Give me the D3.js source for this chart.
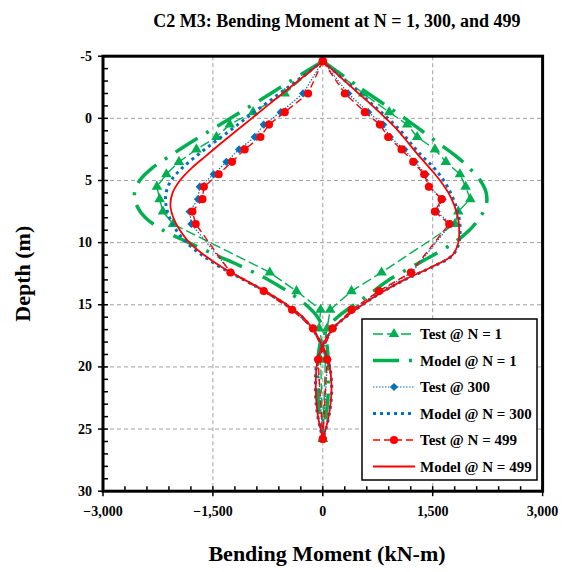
<!DOCTYPE html>
<html>
<head>
<meta charset="utf-8">
<script src="https://cdn.jsdelivr.net/npm/d3@7"></script>
<style>
  html, body { margin: 0; padding: 0; background: #fff; }
  svg { display: block; }
  text { font-family: "Liberation Serif", "Times New Roman", serif; font-weight: bold; fill: #000; }
</style>
</head>
<body>
<svg id="chart" width="562" height="572"></svg>
<script>
// Pile bending moment envelopes (kN-m) versus depth (m) for cycles N = 1, 300 and 499.

// Depths of the measured (test) points
const testDepth = [-4.6, -2.0, -0.5, 0.5, 1.5, 2.5, 3.5, 4.5, 5.5, 6.5, 7.5, 8.5, 12.4, 13.9, 15.4, 16.9, 19.4, 25.8];
// Measured moments: negative (min) and positive (max) envelopes
const testN1Min   = [0, -519, -952, -1270, -1452, -1725, -1963, -2135, -2264, -2227, -2182, -2045, -724, -359, -30, -50, 35, 0];
const testN1Max   = [0, 551, 906, 1152, 1288, 1530, 1680, 1872, 1949, 2013, 1849, 1803, 802, 392, 100, 60, -30, 0];
const testN300Min = [0, -269, -574, -806, -929, -1143, -1316, -1489, -1680, -1704, -1817, -1794, -1250, -800, -415, -140, 65, 0];
const testN300Max = [0, 346, 619, 824, 915, 1111, 1257, 1407, 1452, 1635, 1553, 1749, 1215, 780, 400, 140, -70, 0];
const testN499Min = [0, -201, -519, -734, -851, -1066, -1239, -1421, -1623, -1643, -1780, -1735, -1261, -806, -419, -133, 59, 0];
const testN499Max = [0, 301, 574, 779, 892, 1075, 1234, 1384, 1448, 1622, 1530, 1725, 1202, 765, 392, 133, -64, 0];

// Depths of the model output
const modelDepth = [-4.6, -3, -2, -1, 0, 1, 2, 3, 4, 5, 6, 7, 8, 9, 10, 11, 12, 13, 14, 15, 16, 17, 18, 19, 20, 21, 22, 23, 24, 25, 25.8];
// Model moments: negative (min) and positive (max) envelopes
const modelN1Min   = [0, -440, -710, -985, -1260, -1540, -1820, -2080, -2330, -2500, -2570, -2540, -2420, -2180, -1830, -1460, -1080, -740, -460, -230, -70, 10, 50, 70, 80, 80, 75, 62, 45, 20, 0];
const modelN1Max   = [0, 380, 620, 870, 1120, 1350, 1580, 1810, 2000, 2150, 2230, 2230, 2140, 2000, 1790, 1510, 1200, 900, 670, 430, 200, 40, -30, -60, -70, -72, -70, -60, -45, -20, 0];
const modelN300Min = [0, -360, -590, -820, -1050, -1270, -1500, -1720, -1920, -2070, -2140, -2140, -2090, -2000, -1860, -1650, -1390, -1075, -770, -500, -280, -135, -35, 45, 95, 118, 122, 108, 82, 42, 0];
const modelN300Max = [0, 310, 510, 700, 890, 1060, 1200, 1350, 1520, 1650, 1745, 1815, 1860, 1875, 1860, 1775, 1480, 1115, 805, 540, 310, 125, 20, -55, -90, -100, -100, -90, -68, -32, 0];
const modelN499Min = [0, -340, -550, -760, -970, -1180, -1390, -1590, -1790, -1950, -2050, -2080, -2040, -1950, -1820, -1620, -1370, -1060, -760, -490, -270, -130, -30, 50, 96, 115, 118, 105, 80, 40, 0];
const modelN499Max = [0, 300, 490, 680, 860, 1030, 1170, 1310, 1460, 1600, 1715, 1795, 1845, 1862, 1850, 1770, 1470, 1110, 805, 540, 310, 125, 20, -50, -85, -95, -95, -85, -65, -30, 0];

// Axis ticks and labels
const xTicks = [-3000, -1500, 0, 1500, 3000];
const yTicks = [-5, 0, 5, 10, 15, 20, 25, 30];
const legendLabels = ["Test @ N = 1", "Model @ N = 1", "Test @ 300", "Model @ N = 300", "Test @ N = 499", "Model @ N = 499"];

const titleText = "C2 M3: Bending Moment at N = 1, 300, and 499";
const xTitle = "Bending Moment (kN-m)";
const yTitle = "Depth (m)";

const GREEN = "#00B050", BLUE = "#0070C0", RED = "#FF0000";

const svg = d3.select("#chart");
const plot = { left: 103, right: 542.6, top: 56.2, bottom: 491.2 };

const x = d3.scaleLinear().domain([-3000, 3000]).range([plot.left, plot.right]);
const y = d3.scaleLinear().domain([-5, 30]).range([plot.top, plot.bottom]);

// Grid
const grid = svg.append("g").attr("stroke", "#a0a0a0").attr("stroke-width", 1).attr("stroke-dasharray", "4,3");
grid.selectAll("line.gx").data([-1500, 0, 1500]).join("line")
  .attr("x1", d => x(d)).attr("x2", d => x(d)).attr("y1", plot.top).attr("y2", plot.bottom);
grid.selectAll("line.gy").data([0, 5, 10, 15, 20, 25]).join("line")
  .attr("x1", plot.left).attr("x2", plot.right).attr("y1", d => y(d)).attr("y2", d => y(d));

// Series definitions
const series = [
  { depth: modelDepth, vals: [modelN1Min, modelN1Max], color: GREEN, width: 3.5, dash: "26,10,3,10", curve: true },
  { depth: testDepth,  vals: [testN1Min, testN1Max],   color: GREEN, width: 1.4, dash: "10,4", marker: "triangle" },
  { depth: modelDepth, vals: [modelN300Min, modelN300Max], color: BLUE, width: 3, dash: "3,4", curve: true },
  { depth: testDepth,  vals: [testN300Min, testN300Max],   color: BLUE, width: 1.2, dash: "1.5,1.5", marker: "diamond" },
  { depth: modelDepth, vals: [modelN499Min, modelN499Max], color: RED, width: 1.8, dash: null, curve: true },
  { depth: testDepth,  vals: [testN499Min, testN499Max],   color: RED, width: 1.4, dash: "7,4", marker: "circle" }
];

// Marker shapes: the diamond is a square turned by 45 degrees
const symbolFor = m => m === "triangle" ? d3.symbolTriangle : (m === "diamond" ? d3.symbolSquare : d3.symbolCircle);
const sizeFor = m => m === "triangle" ? 48 : (m === "diamond" ? 34 : 52);
const rotFor = m => m === "diamond" ? " rotate(45)" : "";

series.forEach(s => {
  const g = svg.append("g");
  s.vals.forEach(v => {
    const pts = s.depth.map((d, i) => [v[i], d]);
    const line = d3.line().x(p => x(p[0])).y(p => y(p[1]))
      .curve(s.curve ? d3.curveCatmullRom.alpha(0.5) : d3.curveLinear);
    g.append("path").datum(pts)
      .attr("d", line)
      .attr("fill", "none")
      .attr("stroke", s.color)
      .attr("stroke-width", s.width)
      .attr("stroke-dasharray", s.dash)
      .attr("stroke-linejoin", "round");
    if (s.marker) {
      g.selectAll(null).data(pts).join("path")
        .attr("transform", p => `translate(${x(p[0])},${y(p[1])})${rotFor(s.marker)}`)
        .attr("d", d3.symbol().type(symbolFor(s.marker)).size(sizeFor(s.marker)))
        .attr("fill", s.color);
    }
  });
});

// Frame
svg.append("rect")
  .attr("x", plot.left).attr("y", plot.top)
  .attr("width", plot.right - plot.left).attr("height", plot.bottom - plot.top)
  .attr("fill", "none").attr("stroke", "#000").attr("stroke-width", 3);

// Y axis ticks: minor inward, major crossing
const ticks = svg.append("g").attr("stroke", "#000").attr("stroke-width", 1.5);
ticks.selectAll("line.ym").data(d3.range(-5, 31, 1)).join("line")
  .attr("x1", d => d % 5 === 0 ? plot.left - 5 : plot.left)
  .attr("x2", plot.left + 5)
  .attr("y1", d => y(d)).attr("y2", d => y(d));
// X axis ticks
ticks.selectAll("line.xm").data(d3.range(-3000, 3001, 300)).join("line")
  .attr("x1", d => x(d)).attr("x2", d => x(d))
  .attr("y1", plot.bottom - 5)
  .attr("y2", d => d % 1500 === 0 ? plot.bottom + 5 : plot.bottom);

// Tick labels
const fmt = d3.format(",");
svg.append("g").selectAll("text").data(yTicks).join("text")
  .attr("x", plot.left - 11).attr("y", d => y(d))
  .attr("text-anchor", "end").attr("dominant-baseline", "central")
  .attr("font-size", 14)
  .text(d => d);
svg.append("g").selectAll("text").data(xTicks).join("text")
  .attr("x", d => x(d)).attr("y", 516)
  .attr("text-anchor", "middle")
  .attr("font-size", 14)
  .text(d => fmt(d));

// Titles
svg.append("text").attr("x", 337).attr("y", 27).attr("text-anchor", "middle")
  .attr("font-size", 18).text(titleText);
svg.append("text").attr("x", 327).attr("y", 561).attr("text-anchor", "middle")
  .attr("font-size", 22).text(xTitle);
svg.append("text").attr("transform", `translate(30,${(plot.top + plot.bottom) / 2}) rotate(-90)`)
  .attr("text-anchor", "middle").attr("font-size", 22).text(yTitle);

// Legend
const legend = svg.append("g");
legend.append("rect").attr("x", 362).attr("y", 319).attr("width", 175).attr("height", 161)
  .attr("fill", "#fff").attr("stroke", "#000").attr("stroke-width", 1.5);
const legendOrder = [1, 0, 3, 2, 5, 4];
legendLabels.forEach((lab, i) => {
  const s = series[legendOrder[i]];
  const cy = 334 + i * 26.5;
  legend.append("line").attr("x1", 373).attr("x2", 415).attr("y1", cy).attr("y2", cy)
    .attr("stroke", s.color).attr("stroke-width", s.width).attr("stroke-dasharray", s.dash);
  if (s.marker) {
    legend.append("path").attr("transform", `translate(394,${cy})${rotFor(s.marker)}`)
      .attr("d", d3.symbol().type(symbolFor(s.marker)).size(sizeFor(s.marker)))
      .attr("fill", s.color);
  }
  legend.append("text").attr("x", 420).attr("y", cy).attr("dominant-baseline", "central")
    .attr("font-size", 15).text(lab);
});
</script>
</body>
</html>
